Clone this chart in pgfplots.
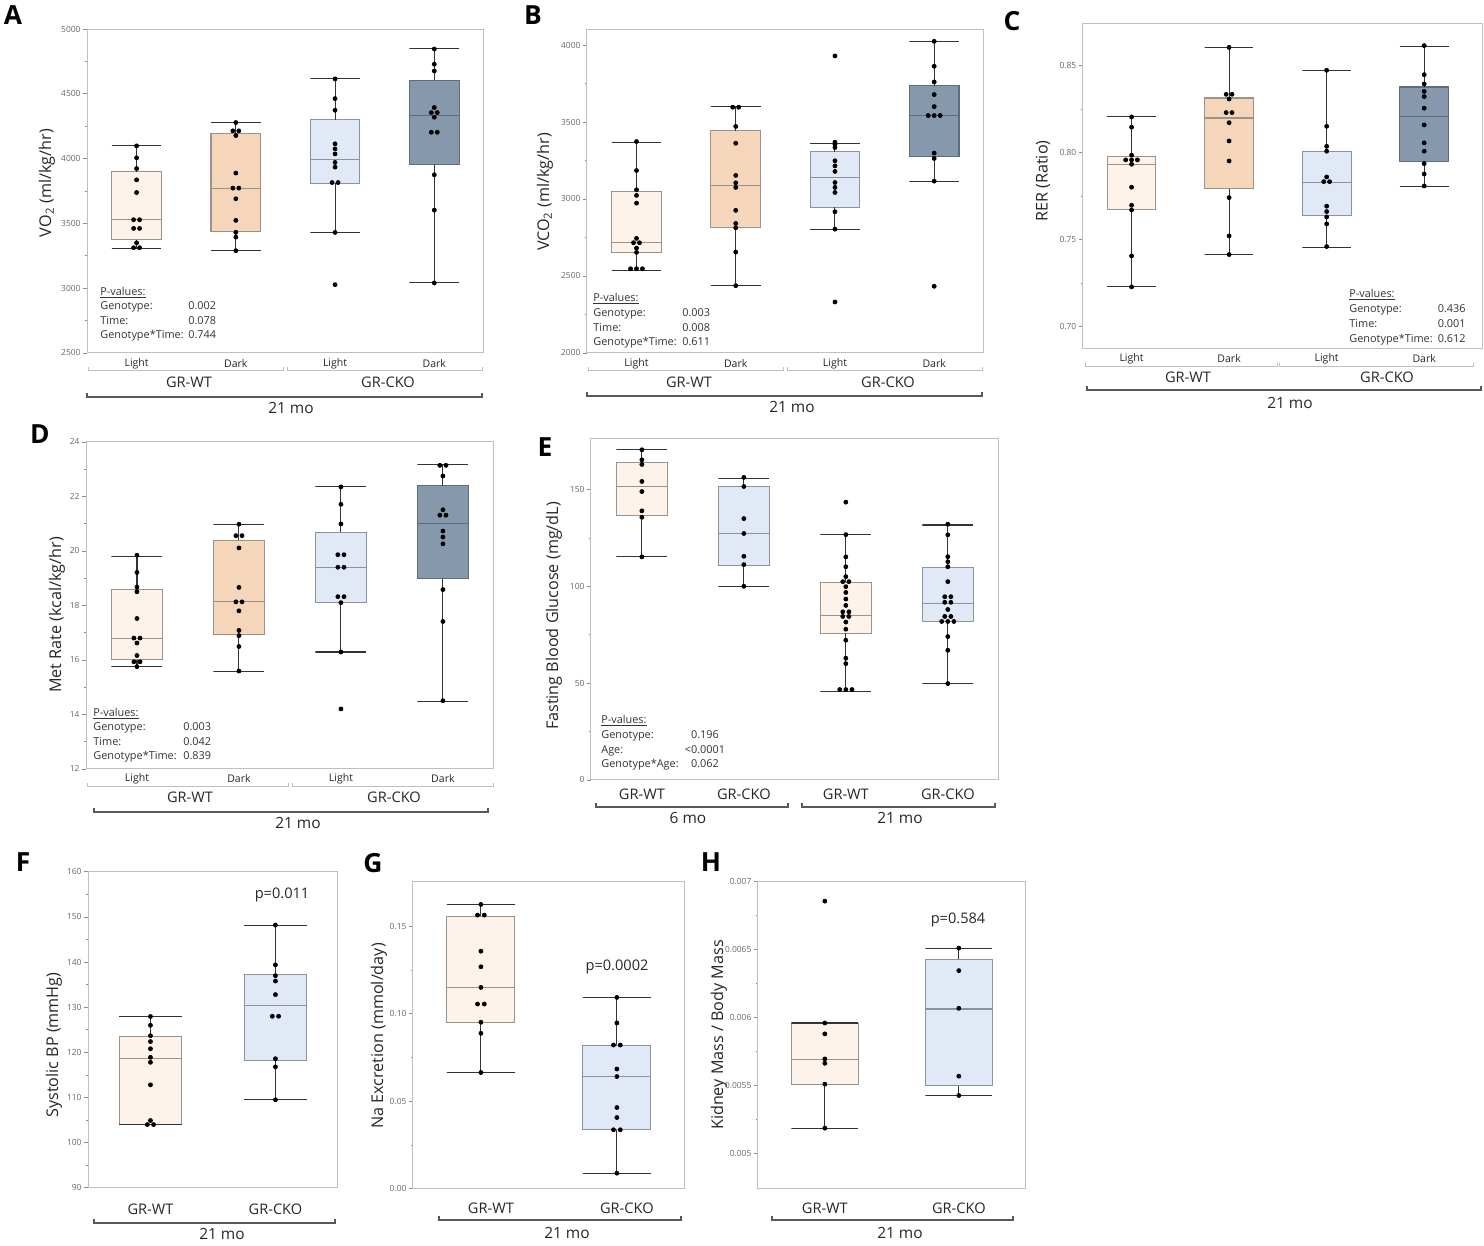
\documentclass[border=0pt]{standalone}
\usepackage{fontspec}
\setmainfont{Open Sans}
\usepackage{pgfplots}
\pgfplotsset{compat=1.18}

\definecolor{wtl}{HTML}{FDF3EA}
\definecolor{wtd}{HTML}{F5D6BB}
\definecolor{ckl}{HTML}{E1E9F6}
\definecolor{ckd}{HTML}{8698AC}
\definecolor{wtb}{HTML}{9C928A}
\definecolor{ckb}{HTML}{8C929C}
\definecolor{ckdb}{HTML}{5E6D7E}

\newcommand\fs[1]{\fontsize{#1}{#1}\selectfont}

\pgfplotsset{
  panel/.style={
    scale only axis, anchor=north west, clip=false,
    axis line style={black!25, line width=0.5pt},
    xtick pos=bottom, ytick pos=left,
    xtick style={draw=none},
    ytick style={black!45, line width=0.4pt},
    tick align=outside,
    major tick length=0.07cm, minor tick length=0.04cm,
    minor y tick num=1,
    yticklabel style={font=\fs{4.8}, text=black!60, inner sep=1.5pt},
    xticklabel style={anchor=center, text=black!85},
    /pgf/number format/assume math mode=true,
    /pgf/number format/1000 sep={},
    scaled y ticks=false,
  },
  four/.style={xmin=0, xmax=4, xtick={0.5,1.5,2.5,3.5}, xticklabels={Light,Dark,Light,Dark},
    xticklabel style={font=\fs{6}, yshift=-0.14cm}},
  two/.style={xmin=0, xmax=2, xtick={0.5,1.5}, xticklabels={GR-WT,GR-CKO}},
  dots/.style={only marks, mark=*, mark size=1.15pt, black},
  whisk/.style={draw=black!80, line width=0.6pt, unbounded coords=jump, mark=none},
}
\tikzset{pv/.style={anchor=base west, font=\fs{6.2}, text=black!80, inner sep=0pt}}

% box: left, centre, right, lower whisker, lower quartile, median, upper quartile, upper whisker, style
\newcommand\bx[9]{%
  \addplot[#9, line width=0.6pt, mark=none] coordinates {(#1,#5) (#3,#5) (#3,#7) (#1,#7)} -- cycle;
  \addplot[whisk] coordinates {(#2,#7) (#2,#8) (#1,#8) (#3,#8) (#2,nan) (#2,#5) (#2,#4) (#1,#4) (#3,#4)};
  \addplot[#9, fill=none, line width=0.6pt, mark=none] coordinates {(#1,#6) (#3,#6)};
}

\begin{document}
\begin{tikzpicture}

% ---------- A ----------
\begin{axis}[panel, four, at={(1.74cm,-0.58cm)}, width=7.94cm, height=6.48cm,
  ymin=2500, ymax=5000, ytick={2500,3000,...,5000}]
\bx{0.25}{0.5}{0.75}{3307}{3374}{3528}{3898}{4098}{fill=wtl, draw=wtb}
\bx{1.25}{1.5}{1.75}{3289}{3438}{3772}{4191}{4278}{fill=wtd, draw=wtb}
\bx{2.25}{2.5}{2.75}{3430}{3808}{3993}{4299}{4615}{fill=ckl, draw=ckb}
\bx{3.25}{3.5}{3.75}{3040}{3952}{4329}{4604}{4846}{fill=ckd, draw=ckdb}
\addplot[dots] coordinates {(0.5,4098) (0.5,4006) (0.5,3923) (0.5,3836) (0.5,3738) (0.47,3528) (0.53,3528) (0.47,3461) (0.53,3461) (0.5,3350) (0.47,3312) (0.53,3312)};
\addplot[dots] coordinates {(1.5,4278) (1.47,4214) (1.53,4214) (1.5,4178) (1.5,3888) (1.47,3772) (1.53,3772) (1.5,3690) (1.5,3523) (1.5,3431) (1.5,3394) (1.5,3289)};
\addplot[dots] coordinates {(2.5,4615) (2.5,4463) (2.5,4373) (2.5,4114) (2.5,4075) (2.5,4036) (2.5,3970) (2.5,3934) (2.47,3815) (2.53,3815) (2.5,3430) (2.5,3027)};
\addplot[dots] coordinates {(3.5,4846) (3.5,4728) (3.5,4676) (3.5,4394) (3.47,4355) (3.53,4355) (3.5,4319) (3.47,4203) (3.53,4203) (3.5,3875) (3.5,3602) (3.5,3040)};
\end{axis}

% ---------- B ----------
\begin{axis}[panel, four, at={(11.74cm,-0.58cm)}, width=7.94cm, height=6.48cm,
  ymin=2000, ymax=4104, ytick={2000,2500,...,4000}]
\bx{0.25}{0.5}{0.75}{2536}{2655}{2716}{3049}{3367}{fill=wtl, draw=wtb}
\bx{1.25}{1.5}{1.75}{2437}{2815}{3090}{3442}{3600}{fill=wtd, draw=wtb}
\bx{2.25}{2.5}{2.75}{2804}{2947}{3140}{3308}{3362}{fill=ckl, draw=ckb}
\bx{3.25}{3.5}{3.75}{3116}{3274}{3542}{3734}{4024}{fill=ckd, draw=ckdb}
\addplot[dots] coordinates {(0.5,3373) (0.5,3185) (0.5,3060) (0.5,3023) (0.5,2973) (0.5,2744) (0.47,2716) (0.53,2716) (0.5,2681) (0.5,2653) (0.44,2547) (0.5,2547) (0.56,2547)};
\addplot[dots] coordinates {(1.47,3596) (1.53,3596) (1.5,3471) (1.5,3362) (1.5,3153) (1.5,3105) (1.5,3075) (1.5,2926) (1.5,2841) (1.5,2813) (1.5,2655) (1.5,2437)};
\addplot[dots] coordinates {(2.5,3929) (2.5,3369) (2.5,3354) (2.5,3334) (2.5,3248) (2.5,3215) (2.5,3179) (2.5,3107) (2.5,3075) (2.5,3042) (2.5,2917) (2.5,2804) (2.5,2331)};
\addplot[dots] coordinates {(3.5,4024) (3.5,3862) (3.5,3760) (3.5,3678) (3.5,3600) (3.44,3542) (3.5,3542) (3.56,3542) (3.5,3298) (3.5,3263) (3.5,3116) (3.5,2433)};
\end{axis}

% ---------- C ----------
\begin{axis}[panel, four, at={(21.66cm,-0.46cm)}, width=8.0cm, height=6.5cm, xmax=4.1,
  ymin=0.6877, ymax=0.8745, ytick={0.70,0.75,0.80,0.85},
  yticklabel style={/pgf/number format/.cd, fixed, fixed zerofill, precision=2}]
\bx{0.25}{0.5}{0.75}{0.7228}{0.7672}{0.7933}{0.7977}{0.8205}{fill=wtl, draw=wtb}
\bx{1.25}{1.5}{1.75}{0.7414}{0.7791}{0.8199}{0.8314}{0.8602}{fill=wtd, draw=wtb}
\bx{2.25}{2.5}{2.75}{0.7456}{0.7638}{0.7829}{0.8008}{0.8473}{fill=ckl, draw=ckb}
\bx{3.25}{3.5}{3.75}{0.7807}{0.7950}{0.8205}{0.8377}{0.8611}{fill=ckd, draw=ckdb}
\addplot[dots] coordinates {(0.5,0.8205) (0.5,0.8146) (0.5,0.7985) (0.44,0.7958) (0.5,0.7958) (0.56,0.7958) (0.5,0.7933) (0.5,0.7801) (0.5,0.7697) (0.5,0.7670) (0.5,0.7406) (0.5,0.7228)};
\addplot[dots] coordinates {(1.5,0.8605) (1.47,0.8335) (1.53,0.8335) (1.5,0.8308) (1.47,0.8230) (1.53,0.8230) (1.5,0.8172) (1.5,0.8067) (1.5,0.7952) (1.5,0.7741) (1.5,0.7521) (1.5,0.7414)};
\addplot[dots] coordinates {(2.5,0.8473) (2.5,0.8151) (2.5,0.8036) (2.5,0.8008) (2.5,0.7860) (2.47,0.7833) (2.53,0.7833) (2.5,0.7692) (2.5,0.7661) (2.5,0.7630) (2.5,0.7590) (2.5,0.7460)};
\addplot[dots] coordinates {(3.5,0.8615) (3.5,0.8448) (3.5,0.8395) (3.5,0.8352) (3.5,0.8322) (3.5,0.8255) (3.5,0.8159) (3.5,0.8056) (3.5,0.8008) (3.5,0.7937) (3.5,0.7877) (3.5,0.7808)};
\end{axis}

% ---------- D ----------
\begin{axis}[panel, four, at={(1.72cm,-8.84cm)}, width=8.16cm, height=6.54cm,
  xticklabel style={yshift=0.02cm},
  ymin=12, ymax=24, ytick={12,14,...,24}]
\bx{0.25}{0.5}{0.75}{15.75}{16.00}{16.80}{18.58}{19.81}{fill=wtl, draw=wtb}
\bx{1.25}{1.5}{1.75}{15.56}{16.92}{18.13}{20.39}{20.98}{fill=wtd, draw=wtb}
\bx{2.25}{2.5}{2.75}{16.29}{18.12}{19.40}{20.69}{22.35}{fill=ckl, draw=ckb}
\bx{3.25}{3.5}{3.75}{14.47}{18.98}{20.99}{22.40}{23.17}{fill=ckd, draw=ckdb}
\addplot[dots] coordinates {(0.5,19.84) (0.5,19.21) (0.5,18.67) (0.5,18.50) (0.5,17.52) (0.47,16.80) (0.53,16.80) (0.5,16.62) (0.5,16.16) (0.47,15.93) (0.53,15.93) (0.5,15.75)};
\addplot[dots] coordinates {(1.5,20.98) (1.47,20.56) (1.53,20.56) (1.5,20.11) (1.5,18.66) (1.47,18.13) (1.53,18.13) (1.5,17.80) (1.5,17.08) (1.5,16.89) (1.5,16.49) (1.5,15.59)};
\addplot[dots] coordinates {(2.5,22.35) (2.5,21.71) (2.5,20.99) (2.47,19.86) (2.53,19.86) (2.47,19.40) (2.53,19.40) (2.47,18.32) (2.53,18.32) (2.5,18.10) (2.5,16.29) (2.5,14.20)};
\addplot[dots] coordinates {(3.47,23.14) (3.53,23.14) (3.5,22.75) (3.5,21.51) (3.47,21.31) (3.53,21.31) (3.5,20.73) (3.5,20.51) (3.5,20.26) (3.5,18.58) (3.5,17.41) (3.5,14.50)};
\end{axis}

% ---------- E ----------
\begin{axis}[panel, at={(11.82cm,-8.78cm)}, width=8.16cm, height=6.82cm,
  xmin=0, xmax=4, xtick={0.5,1.5,2.5,3.5}, xticklabels={GR-WT,GR-CKO,GR-WT,GR-CKO},
  xticklabel style={font=\fs{8.3}, yshift=-0.22cm},
  ymin=0, ymax=176.3, ytick={0,50,100,150}]
\bx{0.25}{0.5}{0.75}{115.3}{136.5}{151.5}{164.0}{170.7}{fill=wtl, draw=wtb}
\bx{1.25}{1.5}{1.75}{100.1}{110.9}{127.5}{151.5}{155.9}{fill=ckl, draw=ckb}
\bx{2.25}{2.5}{2.75}{45.6}{75.7}{85.2}{102.3}{126.8}{fill=wtl, draw=wtb}
\bx{3.25}{3.5}{3.75}{49.8}{81.7}{91.2}{109.9}{131.8}{fill=ckl, draw=ckb}
\addplot[dots] coordinates {(0.5,170.7) (0.5,165.5) (0.5,163.1) (0.5,154.3) (0.5,149.1) (0.5,139.1) (0.5,135.8) (0.5,115.3)};
\addplot[dots] coordinates {(1.5,156.4) (1.5,151.7) (1.5,135.1) (1.5,127.4) (1.5,115.6) (1.5,111.3) (1.5,100.1)};
\addplot[dots] coordinates {(2.5,143.6) (2.5,126.8) (2.5,115.3) (2.5,110.2) (2.5,105.1) (2.47,102.5) (2.53,102.5) (2.5,99.9) (2.5,96.9) (2.5,93.5) (2.5,90.2) (2.47,86.9) (2.53,86.9) (2.47,84.5) (2.53,84.5) (2.5,81.6) (2.5,77.9) (2.5,72.2) (2.5,62.9) (2.5,60.1) (2.44,46.7) (2.5,46.7) (2.56,46.7)};
\addplot[dots] coordinates {(3.5,132.2) (3.5,126.7) (3.5,115.4) (3.5,112.8) (3.5,110.2) (3.5,102.5) (3.47,94.7) (3.53,94.7) (3.47,91.8) (3.53,91.8) (3.5,88.1) (3.47,84.5) (3.53,84.5) (3.44,81.9) (3.5,81.9) (3.56,81.9) (3.5,74.1) (3.5,67.0) (3.5,49.8)};
\end{axis}

% ---------- F ----------
\begin{axis}[panel, two, at={(1.76cm,-17.44cm)}, width=5.0cm, height=6.32cm,
  xticklabel style={font=\fs{8.3}, yshift=-0.36cm},
  ymin=90, ymax=160, ytick={90,100,...,160}]
\bx{0.25}{0.5}{0.75}{104.0}{104.1}{118.7}{123.5}{127.95}{fill=wtl, draw=wtb}
\bx{1.25}{1.5}{1.75}{109.5}{118.1}{130.4}{137.2}{148.2}{fill=ckl, draw=ckb}
\addplot[dots] coordinates {(0.5,127.95) (0.5,126.0) (0.5,123.7) (0.5,122.4) (0.5,120.8) (0.5,118.9) (0.5,117.8) (0.5,112.8) (0.5,104.9) (0.475,104.0) (0.525,104.0)};
\addplot[dots] coordinates {(1.5,148.2) (1.5,139.4) (1.5,137.0) (1.5,135.8) (1.5,132.8) (1.475,128.0) (1.525,128.0) (1.5,118.6) (1.5,116.8) (1.5,109.5)};
\end{axis}

% ---------- G ----------
\begin{axis}[panel, two, at={(8.26cm,-17.64cm)}, width=5.44cm, height=6.14cm,
  xticklabel style={font=\fs{8.3}, yshift=-0.32cm, xshift=0.2cm},
  ymin=0, ymax=0.1753, ytick={0,0.05,0.10,0.15},
  yticklabel style={/pgf/number format/.cd, fixed, fixed zerofill, precision=2}]
\bx{0.25}{0.5}{0.75}{0.0664}{0.0951}{0.1150}{0.1557}{0.1624}{fill=wtl, draw=wtb}
\bx{1.25}{1.5}{1.75}{0.0089}{0.0337}{0.0641}{0.0821}{0.1093}{fill=ckl, draw=ckb}
\addplot[dots] coordinates {(0.5,0.1624) (0.475,0.1563) (0.525,0.1563) (0.5,0.1357) (0.5,0.1268) (0.5,0.1150) (0.475,0.1055) (0.525,0.1055) (0.5,0.0951) (0.5,0.0888) (0.5,0.0664)};
\addplot[dots] coordinates {(1.5,0.1093) (1.5,0.0947) (1.475,0.0821) (1.525,0.0821) (1.5,0.0684) (1.5,0.0641) (1.5,0.0464) (1.5,0.0407) (1.475,0.0337) (1.525,0.0337) (1.5,0.0089)};
\end{axis}

% ---------- H ----------
\begin{axis}[panel, two, at={(15.16cm,-17.64cm)}, width=5.36cm, height=6.14cm,
  xticklabel style={font=\fs{8.3}, yshift=-0.32cm},
  ymin=0.004743, ymax=0.007, ytick={0.005,0.0055,0.006,0.0065,0.007},
  yticklabels={0.005,0.0055,0.006,0.0065,0.007}]
\bx{0.25}{0.5}{0.75}{0.005189}{0.005507}{0.005691}{0.005960}{0.005962}{fill=wtl, draw=wtb}
\bx{1.25}{1.5}{1.75}{0.005429}{0.005500}{0.006065}{0.006430}{0.006513}{fill=ckl, draw=ckb}
\addplot[dots] coordinates {(0.5,0.006858) (0.5,0.005962) (0.5,0.005882) (0.5,0.005698) (0.5,0.005666) (0.5,0.005512) (0.5,0.005189)};
\addplot[dots] coordinates {(1.5,0.006513) (1.5,0.006347) (1.5,0.006070) (1.5,0.005571) (1.5,0.005429)};
\end{axis}

% ---------- annotations (pixel grid) ----------
\begin{scope}[x=0.02cm, y=-0.02cm, every node/.append style={inner sep=0pt}]
\tikzset{let/.style={font=\fs{15}\bfseries},
  yl/.style={rotate=90, font=\fs{9.2}, text=black!85},
  gl/.style={font=\fs{8.3}, text=black!85},
  mo/.style={font=\fs{8.8}, text=black!85},
  thin/.style={draw=black!25, line width=0.5pt},
  brk/.style={draw=black!65, line width=0.8pt}}
% panel letters
\node[let] at (13,15) {A};
\node[let] at (533,15) {B};
\node[let] at (1012,21) {C};
\node[let] at (40,434) {D};
\node[let] at (545,447) {E};
\node[let] at (23,862) {F};
\node[let] at (373,863) {G};
\node[let] at (711,862) {H};
% y labels
\node[yl] at (47,183) {VO\textsubscript{2} (ml/kg/hr)};
\node[yl] at (545,192) {VCO\textsubscript{2} (ml/kg/hr)};
\node[yl] at (1043,181) {RER (Ratio)};
\node[yl] at (57,615) {Met Rate (kcal/kg/hr)};
\node[yl] at (554,616) {Fasting Blood Glucose (mg/dL)};
\node[yl] at (54,1045) {Systolic BP (mmHg)};
\node[yl] at (379,1036) {Na Excretion (mmol/day)};
\node[yl] at (719,1035) {Kidney Mass / Body Mass};
% A groups
\draw[thin] (88,367) -- (88,370) -- (283,370) -- (283,367);
\draw[thin] (287,367) -- (287,370) -- (482,370) -- (482,367);
\node[gl] at (189,382) {GR-WT};
\node[gl] at (388,382) {GR-CKO};
\draw[brk] (87,393) -- (87,397) -- (482,397) -- (482,393);
\node[mo] at (291,408) {21 mo};
% B groups
\draw[thin] (588,367) -- (588,370) -- (783,370) -- (783,367);
\draw[thin] (787,367) -- (787,370) -- (982,370) -- (982,367);
\node[gl] at (689,382) {GR-WT};
\node[gl] at (888,382) {GR-CKO};
\draw[brk] (587,392) -- (587,396) -- (982,396) -- (982,392);
\node[mo] at (792,407) {21 mo};
% C groups
\draw[thin] (1085,363) -- (1085,366) -- (1277,366) -- (1277,363);
\draw[thin] (1279,363) -- (1279,366) -- (1473,366) -- (1473,363);
\node[gl] at (1188,377) {GR-WT};
\node[gl] at (1387,377) {GR-CKO};
\draw[brk] (1087,386) -- (1087,390) -- (1481,390) -- (1481,386);
\node[mo] at (1290,403) {21 mo};
% D groups
\draw[thin] (87,783) -- (87,786) -- (288,786) -- (288,783);
\draw[thin] (292,783) -- (292,786) -- (493,786) -- (493,783);
\node[gl] at (190,797) {GR-WT};
\node[gl] at (394,797) {GR-CKO};
\draw[brk] (94,808) -- (94,812) -- (488,812) -- (488,808);
\node[mo] at (298,823) {21 mo};
% E groups
\draw[brk] (596,803) -- (596,807) -- (788,807) -- (788,803);
\draw[brk] (802,803) -- (802,807) -- (995,807) -- (995,803);
\node[mo] at (688,818) {6 mo};
\node[mo] at (900,818) {21 mo};
% F, G, H groups
\draw[brk] (94,1219) -- (94,1223) -- (335,1223) -- (335,1219);
\node[mo] at (222,1234) {21 mo};
\draw[brk] (439,1216) -- (439,1220) -- (681,1220) -- (681,1216);
\node[mo] at (567,1233) {21 mo};
\draw[brk] (772,1216) -- (772,1220) -- (1013,1220) -- (1013,1216);
\node[mo] at (900,1233) {21 mo};
% p-values
\node[pv] at (100,295) {\underline{P-values:}};
\node[pv] at (100,309) {Genotype:};
\node[pv] at (100,324) {Time:};
\node[pv] at (100,338) {Genotype*Time:};
\node[pv] at (188,309) {0.002};
\node[pv] at (188,324) {0.078};
\node[pv] at (188,338) {0.744};
\node[pv] at (593,301) {\underline{P-values:}};
\node[pv] at (593,316) {Genotype:};
\node[pv] at (593,331) {Time:};
\node[pv] at (593,345) {Genotype*Time:};
\node[pv] at (682,316) {0.003};
\node[pv] at (682,331) {0.008};
\node[pv] at (682,345) {0.611};
\node[pv] at (1349,297) {\underline{P-values:}};
\node[pv] at (1349,312) {Genotype:};
\node[pv] at (1349,327) {Time:};
\node[pv] at (1349,342) {Genotype*Time:};
\node[pv, anchor=base east] at (1466,312) {0.436};
\node[pv, anchor=base east] at (1466,327) {0.001};
\node[pv, anchor=base east] at (1466,342) {0.612};
\node[pv] at (93,716) {\underline{P-values:}};
\node[pv] at (93,730) {Genotype:};
\node[pv] at (93,745) {Time:};
\node[pv] at (93,759) {Genotype*Time:};
\node[pv] at (183,730) {0.003};
\node[pv] at (183,745) {0.042};
\node[pv] at (183,759) {0.839};
\node[pv] at (601,723) {\underline{P-values:}};
\node[pv] at (601,738) {Genotype:};
\node[pv] at (601,753) {Age:};
\node[pv] at (601,767) {Genotype*Age:};
\node[pv, anchor=base] at (705,738) {0.196};
\node[pv, anchor=base] at (705,753) {<0.0001};
\node[pv, anchor=base] at (705,767) {0.062};
% p annotations
\node[gl] at (282,895) {p=0.011};
\node[gl] at (617,967) {p=0.0002};
\node[gl] at (958,920) {p=0.584};
% fixed picture size
\pgfresetboundingbox
\path (0,0) rectangle (1484,1245);
\end{scope}
\end{tikzpicture}
\end{document}
